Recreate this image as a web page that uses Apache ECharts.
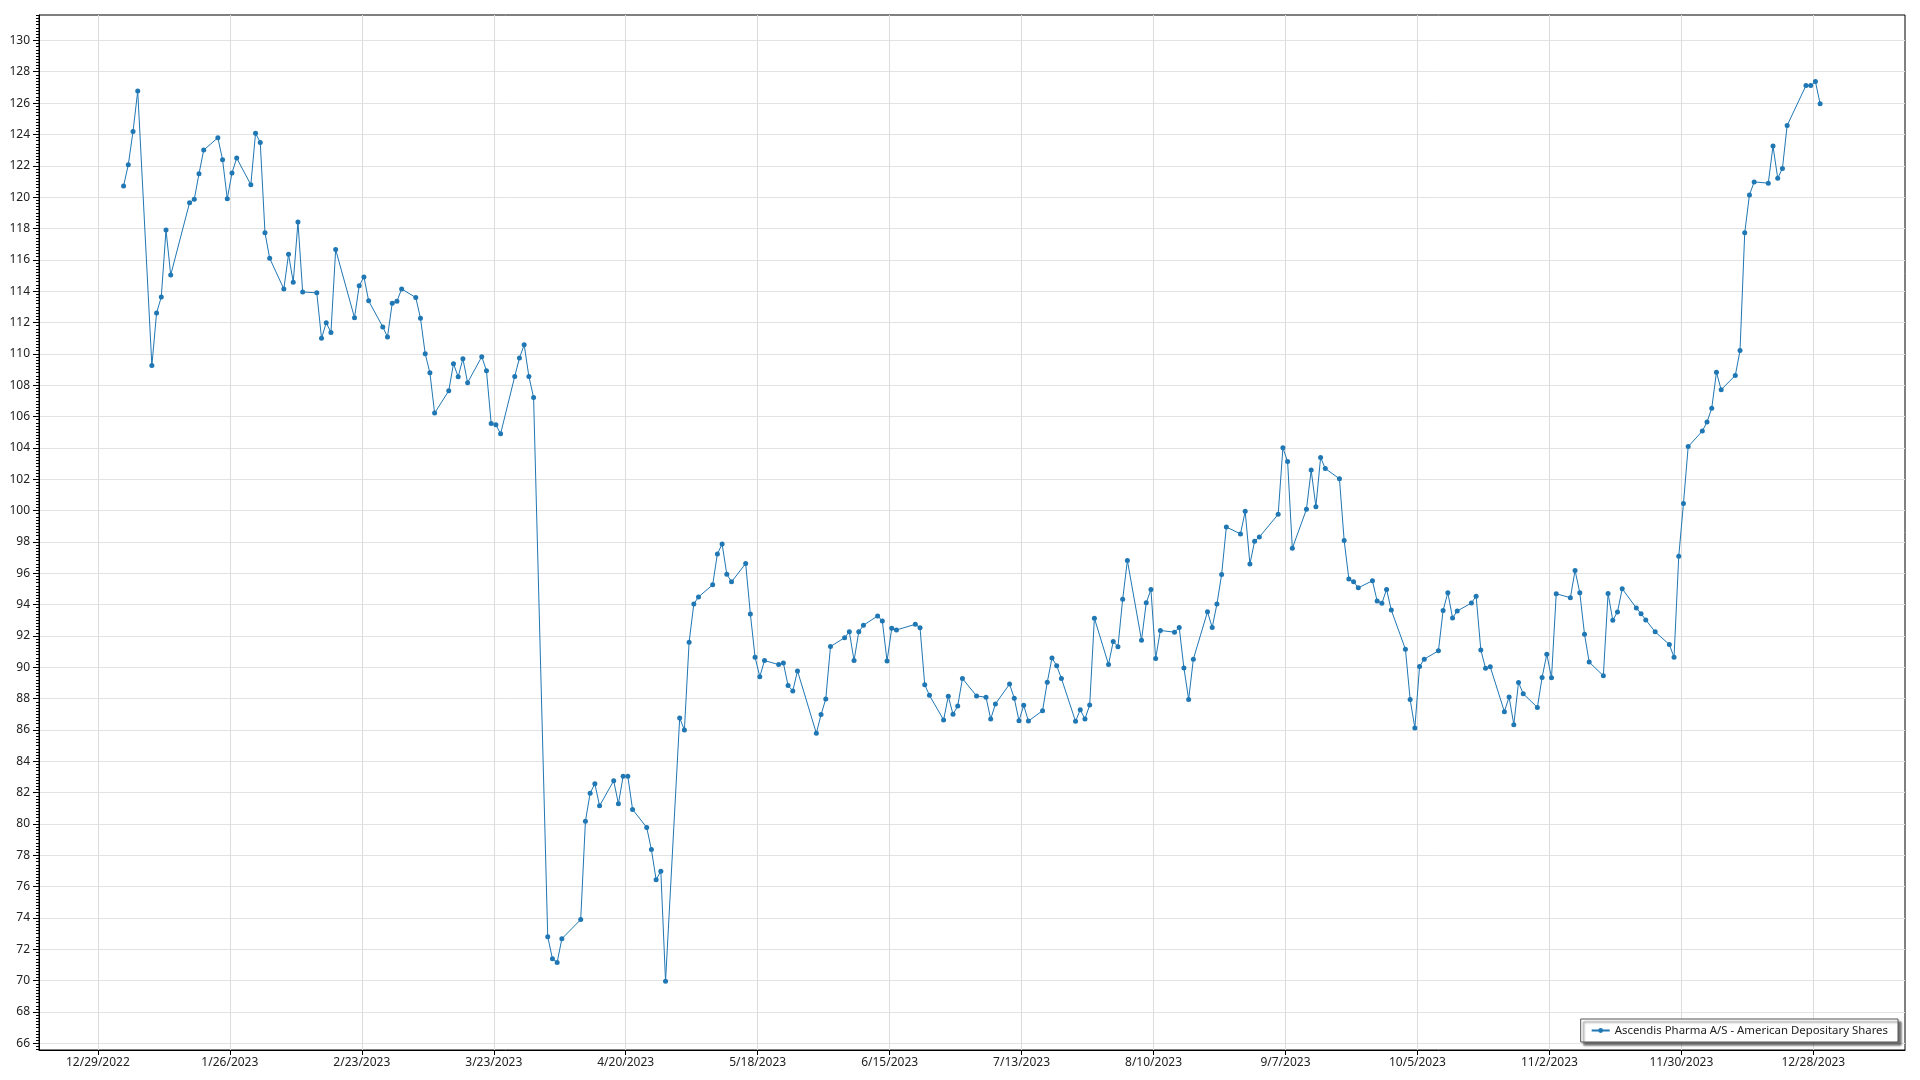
<!DOCTYPE html>
<html><head><meta charset="utf-8">
<script src="https://cdn.jsdelivr.net/npm/echarts@6/dist/echarts.min.js"></script>
<style>html,body{margin:0;padding:0;background:#fff}#c{width:1920px;height:1080px}</style>
</head><body><div id="c"></div>
<script>
const seriesName = 'Ascendis Pharma A/S - American Depositary Shares';

const dates = [
'2023-01-03','2023-01-04','2023-01-05','2023-01-06','2023-01-09','2023-01-10','2023-01-11','2023-01-12','2023-01-13','2023-01-17','2023-01-18','2023-01-19','2023-01-20','2023-01-23','2023-01-24','2023-01-25','2023-01-26','2023-01-27','2023-01-30','2023-01-31',
'2023-02-01','2023-02-02','2023-02-03','2023-02-06','2023-02-07','2023-02-08','2023-02-09','2023-02-10','2023-02-13','2023-02-14','2023-02-15','2023-02-16','2023-02-17','2023-02-21','2023-02-22','2023-02-23','2023-02-24','2023-02-27','2023-02-28',
'2023-03-01','2023-03-02','2023-03-03','2023-03-06','2023-03-07','2023-03-08','2023-03-09','2023-03-10','2023-03-13','2023-03-14','2023-03-15','2023-03-16','2023-03-17','2023-03-20','2023-03-21','2023-03-22','2023-03-23','2023-03-24','2023-03-27','2023-03-28','2023-03-29','2023-03-30','2023-03-31',
'2023-04-03','2023-04-04','2023-04-05','2023-04-06','2023-04-10','2023-04-11','2023-04-12','2023-04-13','2023-04-14','2023-04-17','2023-04-18','2023-04-19','2023-04-20','2023-04-21','2023-04-24','2023-04-25','2023-04-26','2023-04-27','2023-04-28',
'2023-05-01','2023-05-02','2023-05-03','2023-05-04','2023-05-05','2023-05-08','2023-05-09','2023-05-10','2023-05-11','2023-05-12','2023-05-15','2023-05-16','2023-05-17','2023-05-18','2023-05-19','2023-05-22','2023-05-23','2023-05-24','2023-05-25','2023-05-26','2023-05-30','2023-05-31',
'2023-06-01','2023-06-02','2023-06-05','2023-06-06','2023-06-07','2023-06-08','2023-06-09','2023-06-12','2023-06-13','2023-06-14','2023-06-15','2023-06-16','2023-06-20','2023-06-21','2023-06-22','2023-06-23','2023-06-26','2023-06-27','2023-06-28','2023-06-29','2023-06-30',
'2023-07-03','2023-07-05','2023-07-06','2023-07-07','2023-07-10','2023-07-11','2023-07-12','2023-07-13','2023-07-14','2023-07-17','2023-07-18','2023-07-19','2023-07-20','2023-07-21','2023-07-24','2023-07-25','2023-07-26','2023-07-27','2023-07-28','2023-07-31',
'2023-08-01','2023-08-02','2023-08-03','2023-08-04','2023-08-07','2023-08-08','2023-08-09','2023-08-10','2023-08-11','2023-08-14','2023-08-15','2023-08-16','2023-08-17','2023-08-18','2023-08-21','2023-08-22','2023-08-23','2023-08-24','2023-08-25','2023-08-28','2023-08-29','2023-08-30','2023-08-31',
'2023-09-01','2023-09-05','2023-09-06','2023-09-07','2023-09-08','2023-09-11','2023-09-12','2023-09-13','2023-09-14','2023-09-15','2023-09-18','2023-09-19','2023-09-20','2023-09-21','2023-09-22','2023-09-25','2023-09-26','2023-09-27','2023-09-28','2023-09-29',
'2023-10-02','2023-10-03','2023-10-04','2023-10-05','2023-10-06','2023-10-09','2023-10-10','2023-10-11','2023-10-12','2023-10-13','2023-10-16','2023-10-17','2023-10-18','2023-10-19','2023-10-20','2023-10-23','2023-10-24','2023-10-25','2023-10-26','2023-10-27','2023-10-30','2023-10-31',
'2023-11-01','2023-11-02','2023-11-03','2023-11-06','2023-11-07','2023-11-08','2023-11-09','2023-11-10','2023-11-13','2023-11-14','2023-11-15','2023-11-16','2023-11-17','2023-11-20','2023-11-21','2023-11-22','2023-11-24','2023-11-27','2023-11-28','2023-11-29','2023-11-30',
'2023-12-01','2023-12-04','2023-12-05','2023-12-06','2023-12-07','2023-12-08','2023-12-11','2023-12-12','2023-12-13','2023-12-14','2023-12-15','2023-12-18','2023-12-19','2023-12-20','2023-12-21','2023-12-22','2023-12-26','2023-12-27','2023-12-28','2023-12-29'
];

const prices = [
120.71,122.07,124.19,126.77,109.25,112.61,113.63,117.90,115.03,119.64,119.86,121.49,123.00,123.79,122.39,119.90,121.54,122.49,120.79,124.07,
123.49,117.73,116.10,114.14,116.35,114.57,118.41,113.95,113.89,110.99,111.99,111.36,116.65,112.31,114.35,114.91,113.38,111.72,111.08,
113.23,113.35,114.14,113.59,112.27,110.01,108.79,106.22,107.64,109.37,108.54,109.69,108.16,109.82,108.92,105.56,105.47,104.90,108.56,109.73,110.58,108.56,107.22,
72.81,71.41,71.17,72.68,73.90,80.18,81.97,82.57,81.16,82.76,81.29,83.04,83.04,80.93,79.78,78.37,76.45,76.99,69.96,
86.76,86.00,91.60,94.04,94.49,95.26,97.23,97.87,95.94,95.45,96.62,93.40,90.64,89.40,90.43,90.17,90.28,88.83,88.49,89.77,85.79,86.98,
87.98,91.32,91.89,92.26,90.43,92.26,92.68,93.28,92.96,90.40,92.49,92.38,92.74,92.53,88.89,88.21,86.64,88.15,87.00,87.53,89.28,
88.17,88.09,86.70,87.66,88.93,88.02,86.59,87.57,86.57,87.23,89.04,90.59,90.10,89.29,86.55,87.29,86.70,87.59,93.13,90.18,
91.65,91.31,94.34,96.81,91.73,94.11,94.96,90.56,92.35,92.24,92.54,89.95,87.95,90.52,93.54,92.54,94.03,95.92,98.95,98.51,99.95,96.59,98.04,
98.31,99.76,104.00,103.13,97.59,100.08,102.58,100.25,103.38,102.68,102.03,98.09,95.63,95.46,95.07,95.52,94.23,94.08,94.97,93.65,
91.15,87.95,86.13,90.05,90.52,91.05,93.63,94.76,93.15,93.59,94.10,94.54,91.11,89.94,90.03,87.17,88.10,86.34,89.03,88.31,87.44,89.35,
90.83,89.33,94.69,94.44,96.18,94.76,92.11,90.33,89.46,94.71,93.00,93.53,95.01,93.78,93.42,93.02,92.26,91.45,90.64,97.08,100.45,
104.08,105.07,105.65,106.53,108.82,107.71,108.62,110.21,117.72,120.14,120.97,120.89,123.26,121.20,121.83,124.57,127.12,127.12,127.37,125.96
];

const xTickDates = ['2022-12-29','2023-01-26','2023-02-23','2023-03-23','2023-04-20','2023-05-18','2023-06-15','2023-07-13','2023-08-10','2023-09-07','2023-10-05','2023-11-02','2023-11-30','2023-12-28'];
const yTickValues = [66,68,70,72,74,76,78,80,82,84,86,88,90,92,94,96,98,100,102,104,106,108,110,112,114,116,118,120,122,124,126,128,130];

// price records carry a time of day (~10:48 UTC) in the source; ticks sit at midnight
const POINT_TIME = 'T10:48:00Z';
const TICK_TIME = 'T00:00:00Z';
const Y_MIN = 65.58, Y_MAX = 131.62;
const X_MIN = Date.UTC(2022, 11, 16, 12), X_MAX = Date.UTC(2024, 0, 16, 11);

const minorTicks = [];
for (let k = 0; 65.6 + k * 0.2 <= 131.6 + 1e-9; k++) minorTicks.push(+(65.6 + k * 0.2).toFixed(1));

const seriesData = dates.map((d, i) => [Date.parse(d + POINT_TIME), prices[i]]);
const xTicks = xTickDates.map(d => Date.parse(d + TICK_TIME));
const fmtDate = v => { const d = new Date(v); return (d.getUTCMonth() + 1) + '/' + d.getUTCDate() + '/' + d.getUTCFullYear(); };

const FONT = '"Noto Sans", "Open Sans", sans-serif';
const chart = echarts.init(document.getElementById('c'), null, { renderer: 'canvas' });
chart.setOption({
  animation: false,
  backgroundColor: '#fff',
  textStyle: { fontFamily: FONT },
  grid: { left: 39, right: 15, top: 15, bottom: 30, containLabel: false, outerBoundsMode: 'none',
          show: true, borderColor: '#000', borderWidth: 1, backgroundColor: 'transparent' },
  legend: {
    show: true, data: [seriesName], right: 22, bottom: 38, orient: 'horizontal',
    backgroundColor: '#fff', borderColor: '#555', borderWidth: 1, padding: [6, 10, 6, 10],
    shadowColor: 'rgba(0,0,0,0.55)', shadowBlur: 2, shadowOffsetX: 3, shadowOffsetY: 3,
    itemWidth: 18, itemHeight: 6, itemGap: 6,
    textStyle: { fontSize: 11.4, color: '#222', fontFamily: FONT }
  },
  xAxis: {
    type: 'value', min: X_MIN, max: X_MAX,
    axisLine: { show: true, lineStyle: { color: '#000', width: 1 } },
    axisTick: { show: true, customValues: xTicks, length: 5, lineStyle: { color: '#000' } },
    axisLabel: { show: true, customValues: xTicks, formatter: fmtDate, margin: 7, fontSize: 12, color: '#222', fontFamily: FONT },
    splitLine: { show: true, lineStyle: { color: '#dcdcdc', width: 1 } }
  },
  yAxis: [{
    type: 'value', min: Y_MIN, max: Y_MAX, position: 'left',
    axisLine: { show: true, lineStyle: { color: '#000', width: 1 } },
    axisTick: { show: true, customValues: yTickValues, length: 6, lineStyle: { color: '#000' } },
    axisLabel: { show: true, customValues: yTickValues, margin: 9, fontSize: 12, color: '#222', fontFamily: FONT },
    splitLine: { show: true, lineStyle: { color: '#e3e3e3', width: 1 } }
  }, {
    type: 'value', min: Y_MIN, max: Y_MAX, position: 'left', offset: 0,
    axisLine: { show: false },
    axisTick: { show: true, customValues: minorTicks, length: 3, lineStyle: { color: '#000' } },
    axisLabel: { show: false },
    splitLine: { show: false }
  }],
  series: [{
    name: seriesName, type: 'line', data: seriesData, yAxisIndex: 0,
    symbol: 'circle', symbolSize: 5, showAllSymbol: true,
    lineStyle: { color: '#1f77b4', width: 1 },
    itemStyle: { color: '#1f77b4' },
    emphasis: { disabled: true }
  }]
});
</script></body></html>
